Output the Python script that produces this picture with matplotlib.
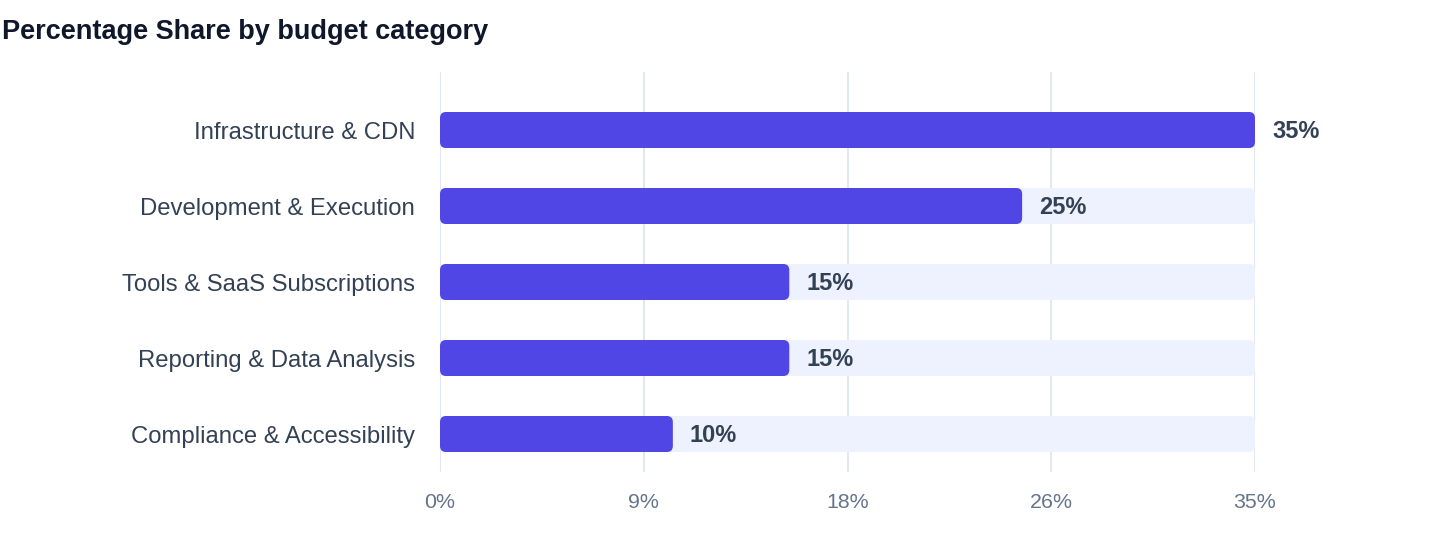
import matplotlib
matplotlib.use("Agg")
import matplotlib.pyplot as plt
from matplotlib.patches import FancyBboxPatch

categories = ["Infrastructure & CDN", "Development & Execution", "Tools & SaaS Subscriptions",
              "Reporting & Data Analysis", "Compliance & Accessibility"]
values = [35, 25, 15, 15, 10]
tick_values = [0, 8.75, 17.5, 26.25, 35]
tick_labels = ["0%", "9%", "18%", "26%", "35%"]
title = "Percentage Share by budget category"

BAR = "#4f46e5"
TRACK = "#eef2ff"
GRID = "#e2e8f0"
LABEL = "#334155"
TICK = "#64748b"
TITLE = "#0f172a"

plt.rcParams['font.family'] = ['Liberation Sans', 'DejaVu Sans']
DPI = 100
fig = plt.figure(figsize=(14.4, 5.6), dpi=DPI)
ax = fig.add_axes([440/1440, 1-472/560, 815/1440, 400/560])

xmax = max(values)
ax.set_xlim(0, xmax)
ax.set_ylim(4.5, -58/76)

bar_h = 36/76
px_x = xmax/815
px_y = 1/76
r = 6
for i, (c, v) in enumerate(zip(categories, values)):
    track = FancyBboxPatch((0, i - bar_h/2), xmax, bar_h,
                           boxstyle=f"round,pad=0,rounding_size={r*px_x}",
                           mutation_aspect=px_y/px_x, fc=TRACK, ec="none", zorder=2)
    ax.add_patch(track)
    bar = FancyBboxPatch((0, i - bar_h/2), v, bar_h,
                         boxstyle=f"round,pad=0,rounding_size={r*px_x}",
                         mutation_aspect=px_y/px_x, fc=BAR, ec="none", zorder=3)
    ax.add_patch(bar)
    ax.annotate(f"{v}%", xy=(v, i), xytext=(17*72/DPI, -1*72/DPI), textcoords="offset points",
                ha="left", va="center", fontsize=17, fontweight="bold", color=LABEL, zorder=4)

ax.set_yticks(range(len(categories)))
ax.set_yticklabels(categories)
ax.set_xticks(tick_values)
ax.set_xticklabels(tick_labels)
ax.tick_params(axis="y", length=0, pad=25*72/DPI, labelsize=17.2, labelcolor=LABEL)
ax.tick_params(axis="x", length=0, pad=21*72/DPI, labelsize=15.4, labelcolor=TICK)
for x in tick_values:
    ax.axvline(x, color=GRID, lw=1.5, zorder=1)
for s in ax.spines.values():
    s.set_visible(False)

fig.text(2/1440, 1-32/560, title, ha="left", va="center", fontsize=19.5,
         fontweight="bold", color=TITLE)

fig.savefig("out.png", dpi=DPI)
